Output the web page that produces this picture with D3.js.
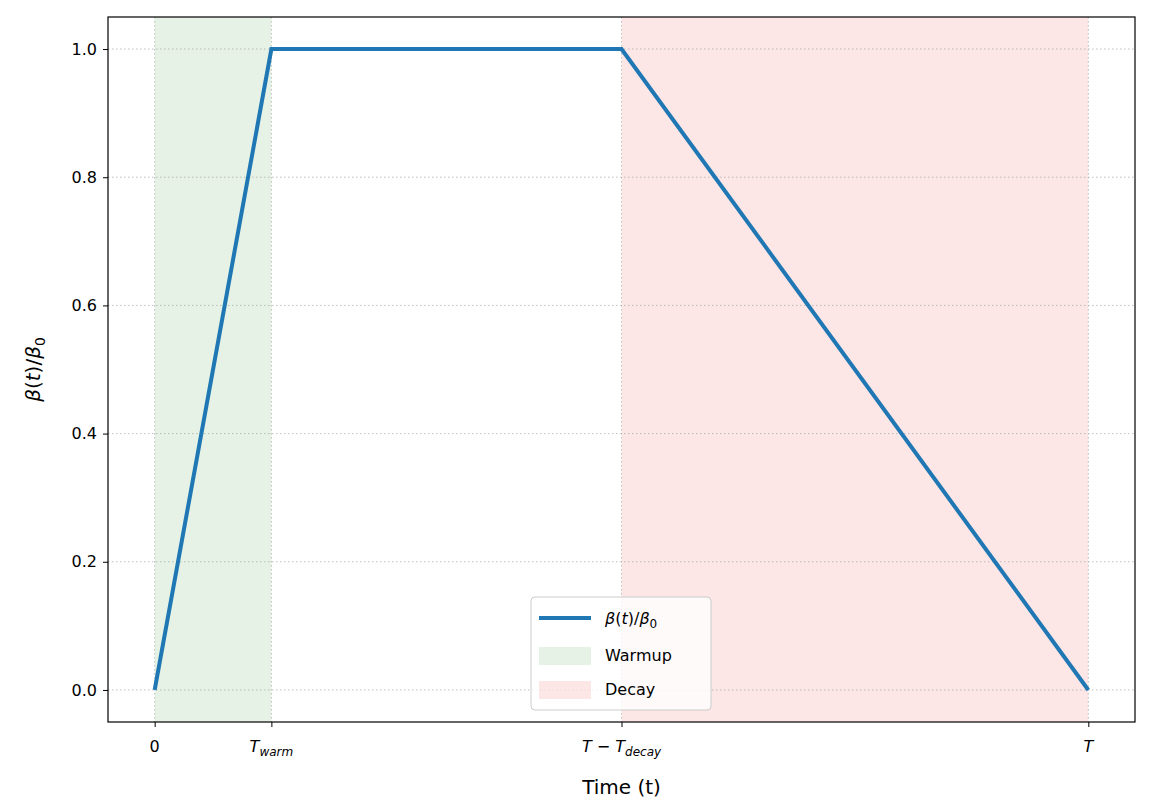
<!DOCTYPE html>
<html><head><meta charset="utf-8">
<script src="https://cdn.jsdelivr.net/npm/d3@7/dist/d3.min.js"></script>
<style>body{margin:0;background:#fff}text{font-family:"DejaVu Sans",sans-serif}</style>
</head><body><svg id="c" width="1153" height="809"></svg>
<script>
const tWarm = 0.125, tDecay = 0.5, tEnd = 1.0;
const lineX = [0, tWarm, tDecay, tEnd];
const lineY = [0, 1, 1, 0];
const xTickVals = [0, tWarm, tDecay, tEnd];
const yTickVals = [0, 0.2, 0.4, 0.6, 0.8, 1.0];

const svg = d3.select("#c");
const L = 108, R = 1135, T = 17, B = 722;
const x = d3.scaleLinear().domain([-0.05, 1.05]).range([L, R]);
const y = d3.scaleLinear().domain([-0.05, 1.05]).range([B, T]);

svg.append("rect").attr("x", x(0)).attr("y", T).attr("width", x(tWarm) - x(0)).attr("height", B - T).attr("fill", "green").attr("opacity", 0.1);
svg.append("rect").attr("x", x(tDecay)).attr("y", T).attr("width", x(tEnd) - x(tDecay)).attr("height", B - T).attr("fill", "#f08080").attr("opacity", 0.2);

yTickVals.forEach(v => svg.append("line").attr("x1", L).attr("x2", R).attr("y1", y(v)).attr("y2", y(v)).attr("stroke", "#b0b0b0").attr("stroke-width", 0.8).attr("stroke-dasharray", "1.5,2.5"));
xTickVals.forEach(v => svg.append("line").attr("x1", x(v)).attr("x2", x(v)).attr("y1", T).attr("y2", B).attr("stroke", "#b0b0b0").attr("stroke-width", 0.8).attr("stroke-dasharray", "1.5,2.5"));

const pts = lineX.map((d, i) => [d, lineY[i]]);
svg.append("path").attr("d", d3.line().x(d => x(d[0])).y(d => y(d[1]))(pts)).attr("fill", "none").attr("stroke", "#1f77b4").attr("stroke-width", 4);

const ya = svg.append("g").attr("transform", `translate(${L},0)`).call(d3.axisLeft(y).tickValues(yTickVals).tickFormat(d3.format(".1f")).tickSizeOuter(0).tickSize(5));
ya.selectAll("text").attr("font-size", 16).attr("fill", "#000").attr("dx", -3);
svg.append("g").attr("transform", `translate(0,${B})`).call(d3.axisBottom(x).tickValues(xTickVals).tickFormat("").tickSizeOuter(0).tickSize(5));
svg.selectAll(".domain").remove();
svg.append("rect").attr("x", L).attr("y", T).attr("width", R - L).attr("height", B - T).attr("fill", "none").attr("stroke", "#000").attr("stroke-width", 1.2);

function lab(xv, parts) {
  const t = svg.append("text").attr("x", x(xv)).attr("y", 752).attr("text-anchor", "middle").attr("font-size", 16).attr("xml:space", "preserve");
  parts.forEach(p => { const s = t.append("tspan").text(p[0]); if (p[1]) s.attr("font-style", "italic"); if (p[2]) s.attr("font-size", 12).attr("dy", p[2]); });
}
lab(0, [["0"]]);
lab(tWarm, [["T", 1], ["warm", 1, 4]]);
lab(tDecay, [["T", 1], [" \u2212 ", 0, 0], ["T", 1], ["decay", 1, 4]]);
lab(tEnd, [["T", 1]]);

svg.append("text").attr("x", (L + R) / 2).attr("y", 794).attr("text-anchor", "middle").attr("font-size", 20).text("Time (t)");
const yl = svg.append("text").attr("transform", `translate(40,${(T + B) / 2}) rotate(-90)`).attr("text-anchor", "middle").attr("font-size", 20);
yl.append("tspan").attr("font-style", "italic").text("β");
yl.append("tspan").text("(");
yl.append("tspan").attr("font-style", "italic").text("t");
yl.append("tspan").text(")/");
yl.append("tspan").attr("font-style", "italic").text("β");
yl.append("tspan").attr("font-size", 14).attr("dy", 5).text("0");

const lg = svg.append("g").attr("transform", "translate(531,597)");
lg.append("rect").attr("width", 180).attr("height", 113).attr("rx", 4).attr("fill", "#fff").attr("fill-opacity", 0.8).attr("stroke", "#ccc");
lg.append("line").attr("x1", 8).attr("x2", 60).attr("y1", 21).attr("y2", 21).attr("stroke", "#1f77b4").attr("stroke-width", 4);
lg.append("rect").attr("x", 8).attr("y", 50).attr("width", 52).attr("height", 18).attr("fill", "green").attr("opacity", 0.1);
lg.append("rect").attr("x", 8).attr("y", 84).attr("width", 52).attr("height", 18).attr("fill", "#f08080").attr("opacity", 0.2);
const l1 = lg.append("text").attr("x", 74).attr("y", 27).attr("font-size", 16);
l1.append("tspan").attr("font-style", "italic").text("β");
l1.append("tspan").text("(");
l1.append("tspan").attr("font-style", "italic").text("t");
l1.append("tspan").text(")/");
l1.append("tspan").attr("font-style", "italic").text("β");
l1.append("tspan").attr("font-size", 12).attr("dy", 4).text("0");
lg.append("text").attr("x", 74).attr("y", 64).attr("font-size", 16).text("Warmup");
lg.append("text").attr("x", 74).attr("y", 98).attr("font-size", 16).text("Decay");
</script></body></html>
